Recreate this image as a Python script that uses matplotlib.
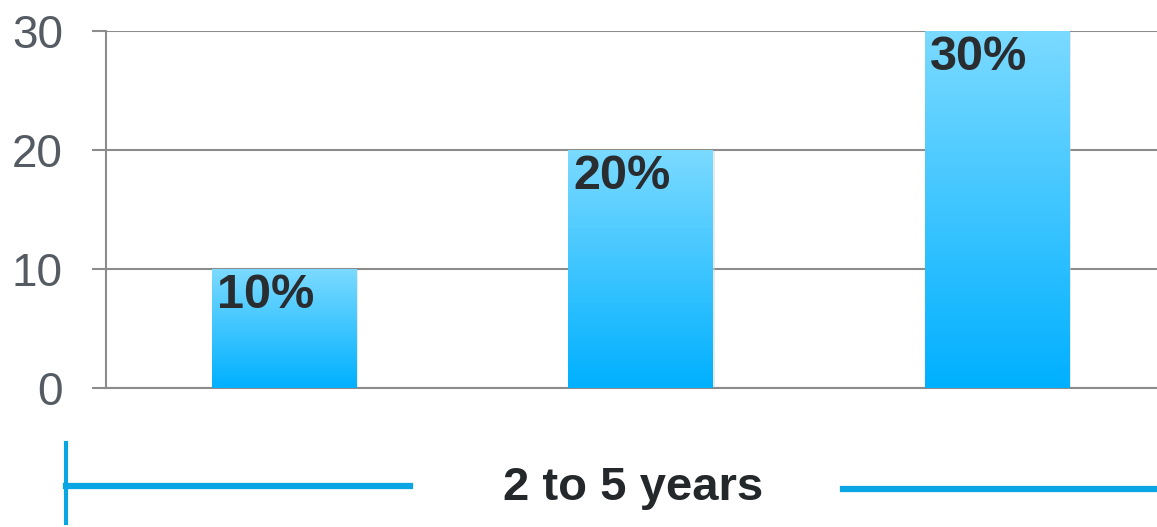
import numpy as np
import matplotlib
matplotlib.use('Agg')
import matplotlib.pyplot as plt
from matplotlib.colors import LinearSegmentedColormap
from matplotlib.lines import Line2D

# chart data
categories = ['A', 'B', 'C']
values = [10, 20, 30]
bar_labels = ['10%', '20%', '30%']
y_ticks = [0, 10, 20, 30]
period_label = '2 to 5 years'

plt.rcParams['font.family'] = ['Liberation Sans', 'DejaVu Sans']

W, H = 1157, 527
fig = plt.figure(figsize=(W / 100, H / 100), dpi=100)

# axes box in pixels (right side runs past the image edge)
left_px, right_px, top_px, bottom_px = 106, 1175, 31, 388
ax = fig.add_axes([left_px / W, (H - bottom_px) / H,
                   (right_px - left_px) / W, (bottom_px - top_px) / H])

x = np.arange(len(categories))
bar_w = 0.405
ax.set_xlim(-0.5, len(categories) - 0.5)
ax.set_ylim(0, 30)

grid_col = '#8c8c8c'
ax.set_yticks(y_ticks)
ax.yaxis.grid(True, color=grid_col, linewidth=1.5, zorder=0)
ax.set_axisbelow(True)
ax.tick_params(axis='y', length=10, width=1.5, color=grid_col, pad=21,
               labelsize=33, labelcolor='#555b62')
for t in ax.get_yticklabels():
    t.set_y(t.get_position()[1])
ax.tick_params(axis='x', length=0, labelbottom=False)
for s in ['top', 'right']:
    ax.spines[s].set_visible(False)
ax.spines['left'].set_color(grid_col)
ax.spines['left'].set_linewidth(1.5)
ax.spines['bottom'].set_color(grid_col)
ax.spines['bottom'].set_linewidth(1.5)

# gradient bars
cmap = LinearSegmentedColormap.from_list('blu', ['#00b0ff', '#7bdaff'])
grad = np.linspace(0, 1, 256).reshape(-1, 1)
bars = ax.bar(x, values, width=bar_w, color='none', zorder=3)
for b, lab in zip(bars, bar_labels):
    x0, y0 = b.get_x(), b.get_y()
    w, h = b.get_width(), b.get_height()
    # soft shadow
    ax.bar(x0 + w / 2 + 0.003, h, width=w + 0.006, bottom=-0.12,
           color='#d4d4d4', alpha=0.5, zorder=2)
    ax.imshow(grad, extent=[x0, x0 + w, y0, y0 + h], origin='lower',
              cmap=cmap, aspect='auto', zorder=3)
    ax.annotate(lab, xy=(x0, y0 + h), xytext=(3.5, -3), textcoords='offset points',
                ha='left', va='top', fontsize=35, fontweight='bold',
                color='#2a2d30', zorder=5)

# bracket line under the chart with the period label
line_col = '#0aa6e4'
fig.add_artist(Line2D([66 / W, 66 / W], [(H - 443) / H, (H - 523) / H],
                      color=line_col, linewidth=3))
fig.add_artist(Line2D([66 / W, 410 / W], [(H - 486) / H, (H - 486) / H],
                      color=line_col, linewidth=4.5))
fig.add_artist(Line2D([843 / W, 1157 / W], [(H - 489) / H, (H - 489) / H],
                      color=line_col, linewidth=4.5))
fig.text(633 / W, (H - 488) / H, period_label, ha='center', va='center',
         fontsize=34, fontweight='bold', color='#25282b')

fig.savefig('out.png', dpi=100)
